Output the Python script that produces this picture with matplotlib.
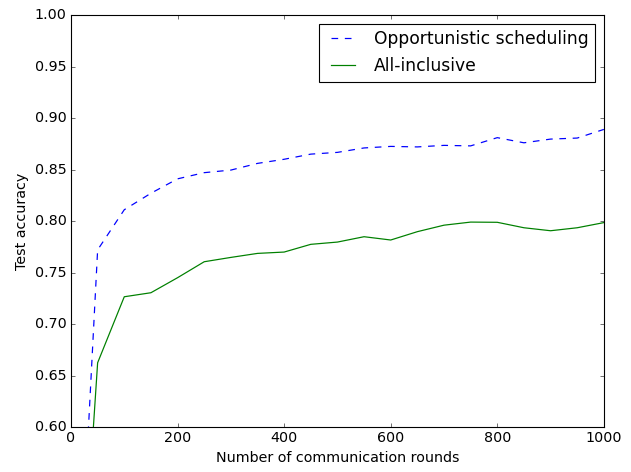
import numpy as np
import matplotlib
matplotlib.use("Agg")
from matplotlib import pyplot as plt

plt.style.use("classic")
plt.rcParams['font.size'] = 12.8
plt.rcParams['lines.linewidth'] = 1.1

# communication rounds and test accuracy of each scheme
rounds = [0, 50, 100, 150, 200, 250, 300, 350, 400, 450, 500,
          550, 600, 650, 700, 750, 800, 850, 900, 950, 1000]
acc_opportunistic = [0.27, 0.772, 0.811, 0.827, 0.841, 0.847, 0.8495, 0.856, 0.860,
                     0.865, 0.8667, 0.871, 0.8725, 0.872, 0.8735, 0.873, 0.881,
                     0.876, 0.8796, 0.8806, 0.889]
acc_all_inclusive = [0.27, 0.6624, 0.7265, 0.7304, 0.745, 0.7605, 0.7647, 0.7686,
                     0.7699, 0.7774, 0.7796, 0.7848, 0.7816, 0.7897, 0.796, 0.799,
                     0.7988, 0.7935, 0.7906, 0.7935, 0.7985]

fig = plt.figure(figsize=(631 / 80, 472 / 80), dpi=80)
ax = fig.add_subplot(111)
fig.subplots_adjust(left=0.1125, right=0.957, top=0.968, bottom=0.0953)

ax.plot(rounds, acc_opportunistic, 'b--', label='Opportunistic scheduling')
ax.plot(rounds, acc_all_inclusive, 'g-', label='All-inclusive')

ax.set_xlim(0, 1000)
ax.set_ylim(0.6, 1.0)
ax.set_xlabel('Number of communication rounds')
ax.set_ylabel('Test accuracy')
ax.legend(loc='upper right')

plt.savefig('out.png', dpi=80)
